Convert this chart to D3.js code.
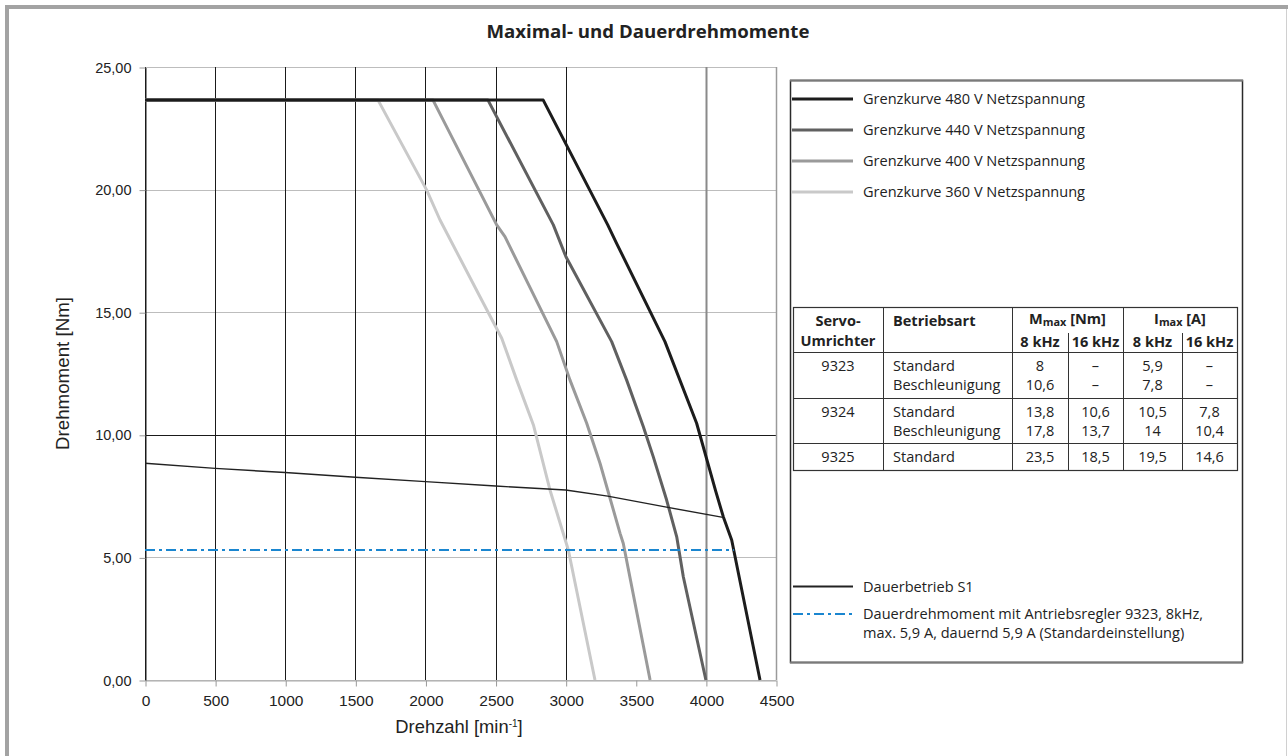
<!DOCTYPE html>
<html><head><meta charset="utf-8">
<script src="https://cdn.jsdelivr.net/npm/d3@7"></script>
<style>body{margin:0;background:#fff}svg{display:block}</style>
</head><body>
<svg id="c" width="1288" height="756"></svg>
<script>
// ---------- data ----------
const speedTicks = [0,500,1000,1500,2000,2500,3000,3500,4000,4500];
const torqueTicks = [0,5,10,15,20,25];

const n480 = [0,2840,3300,3364,3708,3934,4070,4124,4184,4386];
const m480 = [23.65,23.65,18.56,17.8,13.8,10.47,7.7,6.66,5.71,0];
const n440 = [0,2446,2912,3002,3328,3435,3554,3625,3720,3792,3839,4000];
const m440 = [23.65,23.65,18.56,17.26,13.8,12.23,10.33,9.1,7.34,5.84,4.21,0];
const n400 = [0,2054,2508,2567,2936,3031,3150,3245,3388,3411,3602];
const m400 = [23.65,23.65,18.56,18.08,13.8,12.23,10.47,8.84,5.98,5.57,0];
const n360 = [0,1662,2009,2104,2389,2544,2651,2770,2888,3019,3209];
const m360 = [23.65,23.65,19.98,18.76,15.63,13.94,12.23,10.4,7.75,5.3,0];
const s1N = [0,500,1000,1500,2000,2500,3000,3300,3700,4122];
const s1M = [8.84,8.63,8.46,8.27,8.09,7.91,7.75,7.5,7.07,6.63];
const dauerN = [0,4200];
const dauerM = [5.3,5.3];

const curveNames = ["Grenzkurve 480 V Netzspannung","Grenzkurve 440 V Netzspannung","Grenzkurve 400 V Netzspannung","Grenzkurve 360 V Netzspannung"];
const s1Name = "Dauerbetrieb S1";
const dauerName = ["Dauerdrehmoment mit Antriebsregler 9323, 8kHz,","max. 5,9 A, dauernd 5,9 A (Standardeinstellung)"];

const tUmrichter = ["9323","9324","9325"];
const tBetrieb = [["Standard","Beschleunigung"],["Standard","Beschleunigung"],["Standard"]];
const tM8 = [["8","10,6"],["13,8","17,8"],["23,5"]];
const tM16 = [["–","–"],["10,6","13,7"],["18,5"]];
const tI8 = [["5,9","7,8"],["10,5","14"],["19,5"]];
const tI16 = [["–","–"],["7,8","10,4"],["14,6"]];

const title = "Maximal- und Dauerdrehmomente";
const xTitle = "Drehzahl [min";
const yTitle = "Drehmoment [Nm]";

// ---------- drawing ----------
const svg = d3.select("#c");
const FS = "'Open Sans', 'Noto Sans', sans-serif";
const AR = "'Liberation Sans', Arial, sans-serif";
const NR = "'Liberation Sans Narrow', 'Arial Narrow', 'Liberation Sans', sans-serif";

function fit(sel, target){
  const w = sel.node().getComputedTextLength();
  const fs = parseFloat(sel.attr("font-size"));
  sel.attr("font-size", (fs*target/w).toFixed(2));
}

svg.append("rect").attr("width",1288).attr("height",756).attr("fill","#fff");
// outer frame
svg.append("path").attr("d","M7,756V7H1288").attr("fill","none").attr("stroke","#a3a3a3").attr("stroke-width",4);
svg.append("line").attr("x1",1286.5).attr("x2",1286.5).attr("y1",9).attr("y2",756).attr("stroke","#d0d0d0").attr("stroke-width",1);

const x = d3.scaleLinear().domain([0,4500]).range([145,776]);
const y = d3.scaleLinear().domain([0,25]).range([680,67]);

// title
const t = svg.append("text").attr("x",648).attr("y",38).attr("text-anchor","middle")
  .attr("font-family",FS).attr("font-weight","bold").attr("font-size",16).attr("fill","#222").text(title);
fit(t,323);

// gridlines
const g = svg.append("g");
torqueTicks.forEach(v=>{
  g.append("line").attr("x1",x(0)).attr("x2",x(4500)).attr("y1",Math.round(y(v))+0.5).attr("y2",Math.round(y(v))+0.5)
   .attr("stroke", v===10 ? "#1a1a1a" : "#bdbdbd").attr("stroke-width",1);
});
speedTicks.forEach(v=>{
  if (v===3500) return;
  let col="#1a1a1a", sw=1;
  if (v===4000){col="#8a8a8a"; sw=2;}
  if (v===4500){col="#9a9a9a"; sw=1.5;}
  g.append("line").attr("x1",Math.round(x(v))+0.5).attr("x2",Math.round(x(v))+0.5).attr("y1",y(25)).attr("y2",y(0))
   .attr("stroke",col).attr("stroke-width",sw);
});

// axes
const fmt = d => d3.format(".2f")(d).replace(".",",");
const ya = svg.append("g").attr("transform","translate(145.5,0.5)")
  .call(d3.axisLeft(y).tickValues(torqueTicks).tickFormat(fmt).tickSize(6).tickSizeOuter(0).tickPadding(8));
ya.select(".domain").attr("stroke","#1a1a1a");
ya.selectAll(".tick line").attr("stroke","#999");
ya.selectAll(".tick text").attr("font-family",AR).attr("font-size",14.5).attr("fill","#222");

const xa = svg.append("g").attr("transform","translate(0.5,680.5)")
  .call(d3.axisBottom(x).tickValues(speedTicks).tickFormat(d3.format("d")).tickSize(6).tickSizeOuter(0).tickPadding(8));
xa.select(".domain").attr("stroke","#aaa");
xa.selectAll(".tick line").attr("stroke","#999");
xa.selectAll(".tick text").attr("font-family",NR).attr("font-size",15.5).attr("fill","#222");

// axis titles
const xt = svg.append("text").attr("x",459).attr("y",733).attr("text-anchor","middle")
  .attr("font-family",NR).attr("font-size",17).attr("fill","#222");
xt.append("tspan").text(xTitle);
xt.append("tspan").attr("font-size",10).attr("dy",-6).text("-1");
xt.append("tspan").attr("dy",6).text("]");
fit(xt,128);

const yt = svg.append("text").attr("transform","translate(69,373.5) rotate(-90)").attr("text-anchor","middle")
  .attr("font-family",AR).attr("font-size",17).attr("fill","#222").text(yTitle);
fit(yt,153);

// curves
const line = d3.line().x(d=>x(d[0])).y(d=>y(d[1]));
const zip = (a,b)=>a.map((v,i)=>[v,b[i]]);
const curves = [
  {n:n360,m:m360,c:"#c9c9c9"},
  {n:n400,m:m400,c:"#9a9a9a"},
  {n:n440,m:m440,c:"#606060"},
  {n:n480,m:m480,c:"#1c1c1c"}
];
const cg = svg.append("g");
curves.forEach(cv=>{
  cg.append("path").attr("d",line(zip(cv.n,cv.m))).attr("fill","none")
    .attr("stroke",cv.c).attr("stroke-width",3).attr("stroke-linejoin","round");
});
cg.append("path").attr("d",line(zip(s1N,s1M))).attr("fill","none").attr("stroke","#222").attr("stroke-width",1.4);
cg.append("path").attr("d",line(zip(dauerN,dauerM))).attr("fill","none").attr("stroke","#1a86d0")
  .attr("stroke-width",2).attr("stroke-dasharray","10,4,3,4");

// legend box
const L = svg.append("g");
L.append("rect").attr("x",790.5).attr("y",80.5).attr("width",452).attr("height",582).attr("fill","#fff").attr("stroke","#2a2a2a").attr("stroke-width",1.5);
L.append("line").attr("x1",790).attr("x2",1243).attr("y1",80.5).attr("y2",80.5).attr("stroke","#7a7a7a").attr("stroke-width",2);
L.append("line").attr("x1",790).attr("x2",1243).attr("y1",662.5).attr("y2",662.5).attr("stroke","#7a7a7a").attr("stroke-width",2);

const legY = [99,130,161,192];
const legCols = ["#1c1c1c","#606060","#9a9a9a","#c9c9c9"];
let legFont = 14;
curveNames.forEach((nm,i)=>{
  L.append("line").attr("x1",792).attr("x2",853).attr("y1",legY[i]).attr("y2",legY[i]).attr("stroke",legCols[i]).attr("stroke-width",3);
  const tx = L.append("text").attr("x",863).attr("y",legY[i]+5).attr("font-family",FS).attr("font-size",14).attr("fill","#222").text(nm);
  if(i===0){ fit(tx,222); legFont = parseFloat(tx.attr("font-size")); }
  else tx.attr("font-size",legFont);
});
L.append("line").attr("x1",793).attr("x2",853).attr("y1",586.5).attr("y2",586.5).attr("stroke","#222").attr("stroke-width",2);
L.append("text").attr("x",863).attr("y",592).attr("font-family",FS).attr("font-size",legFont).attr("fill","#222").text(s1Name);
L.append("line").attr("x1",793).attr("x2",853).attr("y1",614).attr("y2",614).attr("stroke","#1a86d0").attr("stroke-width",2).attr("stroke-dasharray","10,4,3,4");
dauerName.forEach((s,i)=>{
  L.append("text").attr("x",863).attr("y",619+i*19).attr("font-family",FS).attr("font-size",legFont).attr("fill","#222").text(s);
});

// table
const T = svg.append("g");
const cx = [793,883,1012,1068,1123,1182,1237];
const ry = [307,352,398,443,470];
const stroke = "#333";
T.append("rect").attr("x",cx[0]+0.5).attr("y",ry[0]+0.5).attr("width",cx[6]-cx[0]).attr("height",ry[4]-ry[0]).attr("fill","#fff").attr("stroke",stroke).attr("stroke-width",1.2);
[1,2,4].forEach(i=>T.append("line").attr("x1",cx[i]+0.5).attr("x2",cx[i]+0.5).attr("y1",ry[0]).attr("y2",ry[4]).attr("stroke",stroke));
[3,5].forEach(i=>T.append("line").attr("x1",cx[i]+0.5).attr("x2",cx[i]+0.5).attr("y1",333).attr("y2",ry[4]).attr("stroke",stroke));
[1,2,3].forEach(i=>T.append("line").attr("x1",cx[0]).attr("x2",cx[6]).attr("y1",ry[i]+0.5).attr("y2",ry[i]+0.5).attr("stroke",stroke));

const tf = legFont;
function txt(xp,yp,s,anchor,bold){
  return T.append("text").attr("x",xp).attr("y",yp).attr("text-anchor",anchor||"middle")
    .attr("font-family",FS).attr("font-size",tf).attr("font-weight",bold?"bold":"normal").attr("fill","#222").text(s);
}
const mid = (a,b)=>(a+b)/2;
txt(mid(cx[0],cx[1]),326,"Servo-",null,true);
txt(mid(cx[0],cx[1]),346,"Umrichter",null,true);
txt(893,326,"Betriebsart","start",true);
function subHead(xc, main, rest){
  const h = T.append("text").attr("x",xc).attr("y",324).attr("text-anchor","middle")
    .attr("font-family",FS).attr("font-size",tf).attr("font-weight","bold").attr("fill","#222");
  h.append("tspan").text(main);
  h.append("tspan").attr("font-size",tf*0.75).attr("dy",2).text("max");
  h.append("tspan").attr("dy",-2).text(rest);
}
subHead(mid(cx[2],cx[4]),"M"," [Nm]");
subHead(mid(cx[4],cx[6]),"I"," [A]");
txt(mid(cx[2],cx[3]),347,"8 kHz",null,true);
txt(mid(cx[3],cx[4]),347,"16 kHz",null,true);
txt(mid(cx[4],cx[5]),347,"8 kHz",null,true);
txt(mid(cx[5],cx[6]),347,"16 kHz",null,true);

tUmrichter.forEach((u,r)=>{
  const base = ry[r+1]+19;
  txt(mid(cx[0],cx[1]),base,u);
  tBetrieb[r].forEach((s,k)=>txt(893,base+k*19,s,"start"));
  [tM8,tM16,tI8,tI16].forEach((arr,c)=>{
    arr[r].forEach((s,k)=>txt(mid(cx[c+2],cx[c+3]),base+k*19,s));
  });
});
</script>
</body></html>
